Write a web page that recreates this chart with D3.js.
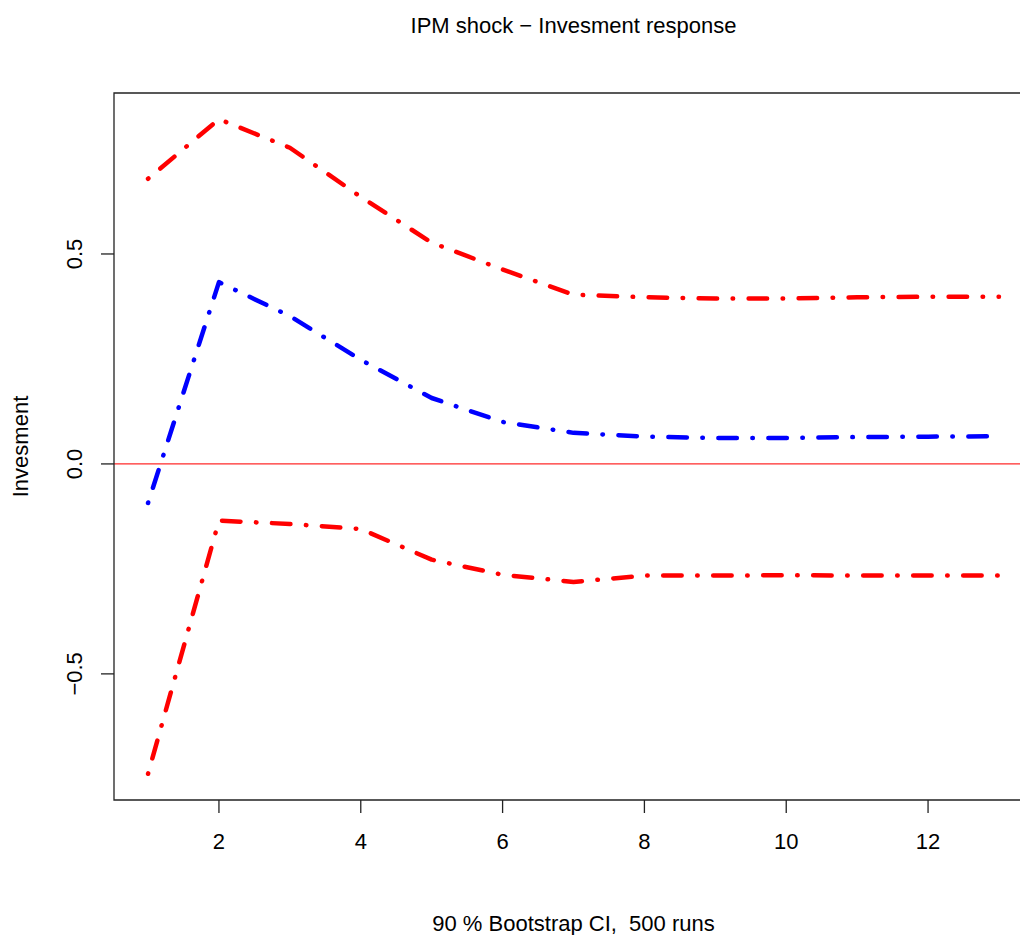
<!DOCTYPE html>
<html>
<head>
<meta charset="utf-8">
<script src="https://cdn.jsdelivr.net/npm/d3@7"></script>
<style>
  html, body { margin: 0; padding: 0; background: #fff; overflow: hidden; }
  svg { display: block; }
  text { font-family: "Liberation Sans", Arial, sans-serif; fill: #000; }
</style>
</head>
<body>
<div id="chart"></div>
<script>
// horizon (periods)
var steps = [1, 2, 3, 4, 5, 6, 7, 8, 9, 10, 11, 12, 13];
// impulse response of investment
var irf = [-0.093, 0.433, 0.352, 0.248, 0.157, 0.100, 0.074, 0.065, 0.062, 0.062, 0.064, 0.065, 0.066];
// bootstrap bands
var upper = [0.679, 0.821, 0.753, 0.636, 0.527, 0.463, 0.403, 0.397, 0.394, 0.394, 0.397, 0.398, 0.398];
var lower = [-0.738, -0.135, -0.143, -0.155, -0.228, -0.264, -0.281, -0.266, -0.266, -0.265, -0.266, -0.266, -0.266];
var xTicks = [2, 4, 6, 8, 10, 12];
var yTicks = [-0.5, 0, 0.5];

var width = 1020, height = 935;
var margin = {top: 93, left: 114, bottom: 135, right: -13};

var svg = d3.select("#chart").append("svg")
    .attr("width", width)
    .attr("height", height);

// R style 4% padding on both axes
var xr = d3.extent(steps);
var xpad = (xr[1] - xr[0]) * 0.04;
var allY = upper.concat(lower, irf);
var yr = d3.extent(allY);
var ypad = (yr[1] - yr[0]) * 0.04;

var x = d3.scaleLinear()
    .domain([xr[0] - xpad, xr[1] + xpad])
    .range([margin.left, width - margin.right]);

var y = d3.scaleLinear()
    .domain([yr[0] - ypad, yr[1] + ypad])
    .range([height - margin.bottom, margin.top]);

// zero line
svg.append("line")
    .attr("x1", margin.left).attr("x2", width)
    .attr("y1", y(0)).attr("y2", y(0))
    .attr("stroke", "#ff2a2a")
    .attr("stroke-width", 1.3);

var line = d3.line()
    .x(function (d, i) { return x(steps[i]); })
    .y(function (d) { return y(d); });

var series = [
    {values: upper, color: "#ff0000"},
    {values: lower, color: "#ff0000"},
    {values: irf, color: "#0000ff"}
];

svg.selectAll("path.series")
    .data(series)
    .enter().append("path")
    .attr("class", "series")
    .attr("d", function (d) { return line(d.values); })
    .attr("fill", "none")
    .attr("stroke", function (d) { return d.color; })
    .attr("stroke-width", 4.5)
    .attr("stroke-linecap", "round")
    .attr("stroke-linejoin", "round")
    .attr("stroke-dasharray", "0.5 15.5 18.5 15.5");

// box (right side falls outside the page)
var x0 = margin.left, y0 = margin.top, y1 = height - margin.bottom;
svg.append("path")
    .attr("d", "M" + width + "," + y0 + "H" + x0 + "V" + y1 + "H" + width)
    .attr("fill", "none")
    .attr("stroke", "#222")
    .attr("stroke-width", 1.3);

// x axis
var xAxis = svg.append("g").attr("class", "x axis");
xAxis.selectAll("line")
    .data(xTicks)
    .enter().append("line")
    .attr("x1", function (d) { return x(d); })
    .attr("x2", function (d) { return x(d); })
    .attr("y1", y.range()[0])
    .attr("y2", y.range()[0] + 13)
    .attr("stroke", "#222")
    .attr("stroke-width", 1.3);
xAxis.selectAll("text")
    .data(xTicks)
    .enter().append("text")
    .attr("x", function (d) { return x(d); })
    .attr("y", 849)
    .attr("text-anchor", "middle")
    .style("font-size", "22px")
    .text(function (d) { return d; });

// y axis
var fmt = function (d) { return d3.format(".1f")(d).replace("-", "\u2212"); };
var yAxis = svg.append("g").attr("class", "y axis");
yAxis.selectAll("line")
    .data(yTicks)
    .enter().append("line")
    .attr("x1", margin.left)
    .attr("x2", margin.left - 13)
    .attr("y1", function (d) { return y(d); })
    .attr("y2", function (d) { return y(d); })
    .attr("stroke", "#222")
    .attr("stroke-width", 1.3);
yAxis.selectAll("text")
    .data(yTicks)
    .enter().append("text")
    .attr("transform", function (d) { return "translate(82," + y(d) + ") rotate(-90)"; })
    .attr("text-anchor", "middle")
    .style("font-size", "22px")
    .text(fmt);

// titles
var cx = (x.range()[0] + x.range()[1]) / 2;
svg.append("text")
    .attr("x", cx).attr("y", 33)
    .attr("text-anchor", "middle")
    .style("font-size", "22px")
    .text("IPM shock \u2212 Invesment response");

svg.append("text")
    .attr("x", cx).attr("y", 931)
    .attr("text-anchor", "middle")
    .style("font-size", "22px")
    .style("white-space", "pre")
    .text("90 % Bootstrap CI,  500 runs");

svg.append("text")
    .attr("transform", "translate(28," + (y.range()[0] + y.range()[1]) / 2 + ") rotate(-90)")
    .attr("text-anchor", "middle")
    .style("font-size", "22px")
    .text("Invesment");
</script>
</body>
</html>
